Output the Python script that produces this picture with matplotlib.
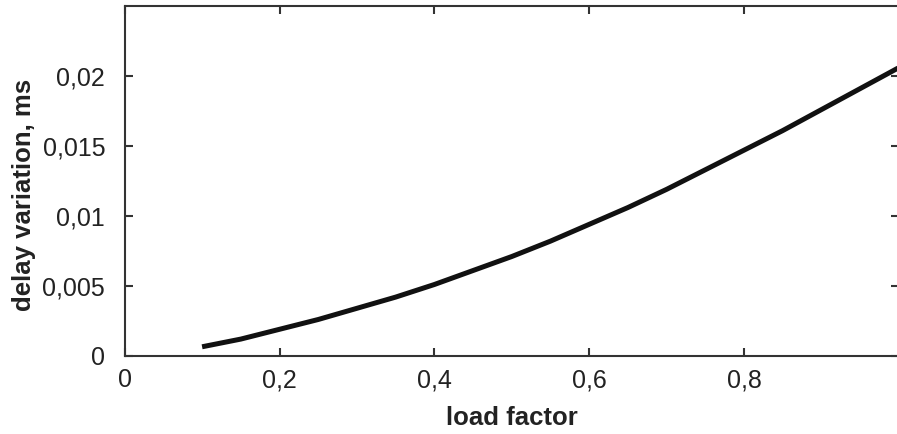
import matplotlib
matplotlib.use("Agg")
import matplotlib.pyplot as plt

load_factor = [0.10, 0.15, 0.20, 0.25, 0.30, 0.35, 0.40, 0.45, 0.50, 0.55,
               0.60, 0.65, 0.70, 0.75, 0.80, 0.85, 0.90, 0.95, 1.00]
delay_var = [0.00065, 0.0012, 0.0019, 0.0026, 0.0034, 0.0042, 0.0051, 0.0061, 0.0071, 0.0082,
             0.0094, 0.0106, 0.0119, 0.0133, 0.0147, 0.0161, 0.0176, 0.0191, 0.0206]

xticks = [0, 0.2, 0.4, 0.6, 0.8]
xticklabels = ["0", "0,2", "0,4", "0,6", "0,8"]
yticks = [0, 0.005, 0.01, 0.015, 0.02]
yticklabels = ["0", "0,005", "0,01", "0,015", "0,02"]

plt.rcParams['font.family'] = ['Liberation Sans', 'DejaVu Sans']

fig = plt.figure(figsize=(8.97, 4.34), dpi=100)
ax = fig.add_axes([0.139, 0.180, 0.863, 0.806])

ax.plot(load_factor, delay_var, color="#111111", lw=3.6,
        solid_capstyle="butt", solid_joinstyle="round")

ax.set_xlim(0, 1.0)
ax.set_ylim(0, 0.025)
ax.set_xticks(xticks)
ax.set_xticklabels(xticklabels)
ax.set_yticks(yticks)
ax.set_yticklabels(yticklabels)

for s in ax.spines.values():
    s.set_linewidth(1.5)
    s.set_color("#333333")

ax.tick_params(direction="in", length=6, width=1.5, color="#333333",
               top=True, right=True, labelsize=18, labelcolor="#222222")
ax.tick_params(axis="x", pad=9)
ax.tick_params(axis="y", pad=14)

ax.set_xlabel("load factor", fontsize=18.5, fontweight="bold", color="#222222", labelpad=10)
ax.set_ylabel("delay variation, ms", fontsize=18.5, fontweight="bold", color="#222222")
ax.yaxis.set_label_coords(-0.114, 0.46)

fig.savefig("out.png", dpi=100)
